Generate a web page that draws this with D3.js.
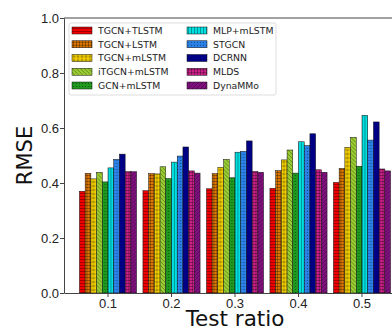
<!DOCTYPE html>
<html>
<head>
<meta charset="utf-8">
<script src="https://cdn.jsdelivr.net/npm/d3@7"></script>
<style>
  body { margin: 0; background: #fff; }
  svg { display: block; font-family: "DejaVu Sans", sans-serif; }
  .axis path, .axis line { stroke: #444; }
  .axis text { fill: #222; font-size: 13px; }
</style>
</head>
<body>
<div id="chart"></div>
<script>
// test ratios on the x axis
const ratios = ['0.1', '0.2', '0.3', '0.4', '0.5'];
const methods = ['TGCN+TLSTM', 'TGCN+LSTM', 'TGCN+mLSTM', 'iTGCN+mLSTM', 'GCN+mLSTM',
  'MLP+mLSTM', 'STGCN', 'DCRNN', 'MLDS', 'DynaMMo'];
const yTicks = [0, 0.2, 0.4, 0.6, 0.8, 1.0];

// RMSE per method, one value per test ratio
const tgcnTlstm = [0.370, 0.372, 0.379, 0.381, 0.402];
const tgcnLstm = [0.435, 0.434, 0.434, 0.445, 0.453];
const tgcnMlstm = [0.415, 0.433, 0.457, 0.484, 0.530];
const itgcnMlstm = [0.439, 0.459, 0.486, 0.520, 0.566];
const gcnMlstm = [0.404, 0.416, 0.419, 0.436, 0.461];
const mlpMlstm = [0.455, 0.476, 0.512, 0.550, 0.646];
const stgcn = [0.486, 0.498, 0.515, 0.536, 0.556];
const dcrnn = [0.505, 0.531, 0.553, 0.579, 0.622];
const mlds = [0.441, 0.444, 0.442, 0.448, 0.451];
const dynammo = [0.441, 0.436, 0.439, 0.439, 0.444];

const series = [tgcnTlstm, tgcnLstm, tgcnMlstm, itgcnMlstm, gcnMlstm,
  mlpMlstm, stgcn, dcrnn, mlds, dynammo];

const colors = ['#f00000', '#e07800', '#f5d000', '#9acd32', '#1f9a1f',
  '#00e0e0', '#2a82e8', '#000088', '#d0208c', '#80107f'];
const hatches = ['-', '+', 'o', '\\', '.', '|', 'dots', 'x', '+', '/'];

const width = 392, height = 331;
const margin = { top: 18, left: 64, bottom: 38 };
const plotRight = 406; // right spine falls just outside the picture

const svg = d3.select('#chart').append('svg')
  .attr('width', width)
  .attr('height', height);

const defs = svg.append('defs');

// hatch patterns, matplotlib style
methods.forEach((m, i) => {
  const h = hatches[i];
  const diag = h === '\\' || h === '/';
  const size = h === 'o' || diag ? 4 : 3;
  const p = defs.append('pattern')
    .attr('id', `hatch${i}`)
    .attr('patternUnits', 'userSpaceOnUse')
    .attr('width', size)
    .attr('height', size);
  p.append('rect').attr('width', 6).attr('height', 6).attr('fill', colors[i]);
  const ink = p.append('g')
    .attr('stroke', '#000')
    .attr('stroke-opacity', 0.55)
    .attr('stroke-width', 0.6)
    .attr('fill', 'none');
  if (h === '-' || h === '+') ink.append('line').attr('x1', 0).attr('x2', size).attr('y1', 1.5).attr('y2', 1.5);
  if (h === '|' || h === '+') ink.append('line').attr('y1', 0).attr('y2', size).attr('x1', 1.5).attr('x2', 1.5);
  if (h === 'o') ink.append('circle').attr('cx', 2).attr('cy', 2).attr('r', 1.1);
  if (h === '\\') ink.append('path').attr('d', 'M-1,-1L5,5M-1,3L1,5M3,-1L5,1');
  if (h === '/') ink.append('path').attr('d', 'M-1,5L5,-1M-1,1L1,-1M3,5L5,3');
  if (h === '.' || h === 'dots' || h === 'x') {
    ink.append('circle').attr('cx', 1.5).attr('cy', 1.5).attr('r', 0.6)
      .attr('fill', '#000').attr('fill-opacity', h === 'x' ? 0.3 : 0.5).attr('stroke', 'none');
  }
});

const x0 = d3.scaleBand()
  .domain(ratios)
  .range([margin.left, plotRight])
  .paddingInner(0.1)
  .paddingOuter(0.243);

const x1 = d3.scaleBand()
  .domain(methods)
  .range([0, x0.bandwidth()]);

const y = d3.scaleLinear()
  .domain([0, 1])
  .range([height - margin.bottom, margin.top]);

// bars
const groups = svg.append('g')
  .selectAll('g')
  .data(ratios)
  .join('g')
  .attr('transform', (d) => `translate(${x0(d)},0)`);

groups.selectAll('rect')
  .data((d, gi) => methods.map((m, i) => ({ m, i, v: series[i][gi] })))
  .join('rect')
  .attr('x', (d) => x1(d.m))
  .attr('y', (d) => y(d.v))
  .attr('width', x1.bandwidth())
  .attr('height', (d) => y(0) - y(d.v))
  .attr('fill', (d) => `url(#hatch${d.i})`)
  .attr('stroke', '#111')
  .attr('stroke-width', 0.5);

// axes
svg.append('g')
  .attr('class', 'axis')
  .attr('transform', `translate(${margin.left},0)`)
  .call(d3.axisLeft(y).tickValues(yTicks).tickFormat(d3.format('.1f')).tickSize(4).tickPadding(1).tickSizeOuter(0));

svg.append('g')
  .attr('class', 'axis')
  .attr('transform', `translate(0,${y(0)})`)
  .call(d3.axisBottom(x0).tickSize(4).tickPadding(2).tickSizeOuter(0));

// top spine
svg.append('line')
  .attr('x1', margin.left).attr('x2', plotRight)
  .attr('y1', margin.top).attr('y2', margin.top)
  .attr('stroke', '#444');

// axis titles
svg.append('text')
  .attr('x', (margin.left + plotRight) / 2)
  .attr('y', 326)
  .attr('text-anchor', 'middle')
  .attr('font-size', 21.5)
  .attr('fill', '#111')
  .text('Test ratio');

svg.append('text')
  .attr('transform', `translate(32,${(margin.top + y(0)) / 2}) rotate(-90)`)
  .attr('text-anchor', 'middle')
  .attr('font-size', 21)
  .attr('fill', '#111')
  .text('RMSE');

// legend
const legend = svg.append('g').attr('transform', 'translate(69,23)');
legend.append('rect')
  .attr('width', 207).attr('height', 72)
  .attr('rx', 2)
  .attr('fill', '#fff').attr('fill-opacity', 0.85)
  .attr('stroke', '#ddd');

const items = legend.selectAll('g')
  .data(methods)
  .join('g')
  .attr('transform', (d, i) => `translate(${i < 5 ? 3 : 118},${4 + (i % 5) * 13.75})`);

items.append('rect')
  .attr('width', 20).attr('height', 7)
  .attr('fill', (d, i) => `url(#hatch${i})`)
  .attr('stroke', '#111').attr('stroke-width', 0.5);

items.append('text')
  .attr('x', 26).attr('y', 3.5)
  .attr('dy', '0.35em')
  .attr('font-size', 9.3)
  .attr('fill', '#222')
  .text((d) => d);
</script>
</body>
</html>
